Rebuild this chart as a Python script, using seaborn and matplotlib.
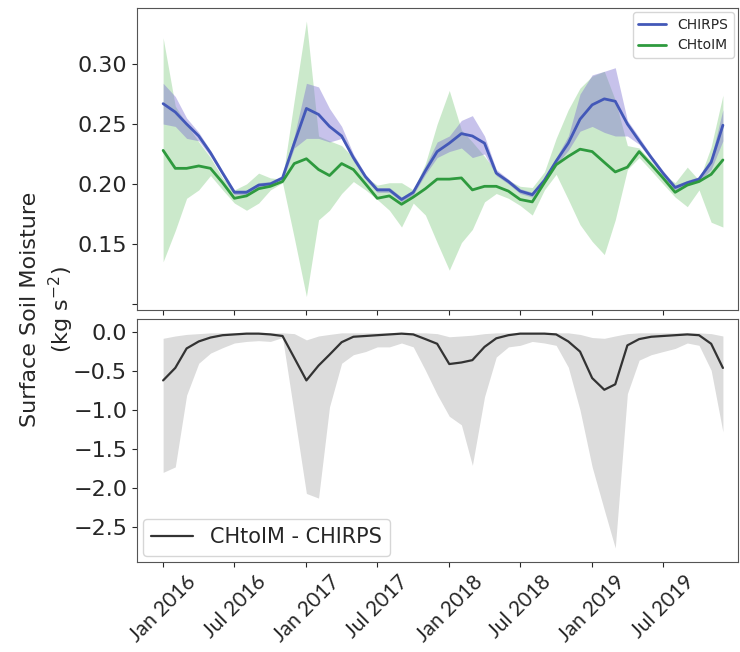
import pandas as pd
import matplotlib.pyplot as plt
import matplotlib.dates as mdates
import seaborn as sns

# monthly values Jan 2016 - Dec 2019
months = pd.date_range("2016-01-01", periods=48, freq="MS")
tick_dates = pd.date_range("2016-01-01", "2019-07-01", freq="6MS")

chirps = [0.267, 0.260, 0.250, 0.240, 0.226, 0.209, 0.193, 0.193, 0.199, 0.200, 0.205, 0.234,
          0.263, 0.258, 0.248, 0.240, 0.222, 0.206, 0.195, 0.195, 0.187, 0.193, 0.211, 0.227,
          0.234, 0.242, 0.240, 0.234, 0.209, 0.202, 0.194, 0.191, 0.203, 0.219, 0.234, 0.254,
          0.266, 0.271, 0.269, 0.250, 0.236, 0.222, 0.209, 0.197, 0.201, 0.204, 0.218, 0.249]
chirps_lo = [0.250, 0.248, 0.238, 0.236, 0.223, 0.207, 0.191, 0.191, 0.197, 0.198, 0.203, 0.230,
             0.238, 0.238, 0.235, 0.238, 0.219, 0.204, 0.193, 0.193, 0.185, 0.191, 0.208, 0.222,
             0.227, 0.230, 0.222, 0.225, 0.207, 0.200, 0.192, 0.189, 0.201, 0.216, 0.228, 0.244,
             0.248, 0.243, 0.240, 0.240, 0.233, 0.220, 0.207, 0.195, 0.199, 0.202, 0.212, 0.236]
chirps_hi = [0.284, 0.273, 0.255, 0.243, 0.228, 0.211, 0.195, 0.195, 0.201, 0.202, 0.207, 0.240,
             0.284, 0.281, 0.263, 0.248, 0.225, 0.208, 0.197, 0.197, 0.189, 0.195, 0.215, 0.235,
             0.240, 0.253, 0.257, 0.240, 0.212, 0.204, 0.196, 0.193, 0.205, 0.222, 0.240, 0.275,
             0.291, 0.294, 0.297, 0.253, 0.239, 0.224, 0.211, 0.199, 0.203, 0.206, 0.222, 0.262]

chtoim = [0.228, 0.213, 0.213, 0.215, 0.213, 0.201, 0.188, 0.190, 0.196, 0.198, 0.202, 0.217,
          0.221, 0.212, 0.207, 0.217, 0.212, 0.200, 0.188, 0.190, 0.183, 0.189, 0.196, 0.204,
          0.204, 0.205, 0.195, 0.198, 0.198, 0.194, 0.187, 0.185, 0.201, 0.216, 0.223, 0.229,
          0.227, 0.218, 0.210, 0.214, 0.227, 0.216, 0.205, 0.193, 0.199, 0.202, 0.208, 0.220]
chtoim_lo = [0.135, 0.161, 0.188, 0.195, 0.207, 0.195, 0.184, 0.178, 0.184, 0.195, 0.201, 0.155,
             0.106, 0.170, 0.178, 0.192, 0.202, 0.195, 0.187, 0.178, 0.164, 0.184, 0.174, 0.151,
             0.128, 0.151, 0.162, 0.185, 0.192, 0.188, 0.182, 0.174, 0.195, 0.208, 0.187, 0.166,
             0.152, 0.141, 0.170, 0.212, 0.222, 0.211, 0.200, 0.189, 0.181, 0.195, 0.168, 0.164]
chtoim_hi = [0.322, 0.265, 0.250, 0.235, 0.222, 0.205, 0.195, 0.200, 0.209, 0.205, 0.204, 0.270,
             0.336, 0.240, 0.236, 0.232, 0.222, 0.206, 0.199, 0.201, 0.201, 0.195, 0.217, 0.250,
             0.278, 0.245, 0.235, 0.223, 0.210, 0.203, 0.198, 0.197, 0.210, 0.238, 0.262, 0.280,
             0.290, 0.294, 0.270, 0.232, 0.230, 0.219, 0.208, 0.201, 0.214, 0.203, 0.231, 0.274]

diff = [-0.62, -0.46, -0.21, -0.12, -0.07, -0.04, -0.03, -0.02, -0.02, -0.03, -0.05, -0.33,
        -0.62, -0.43, -0.29, -0.13, -0.06, -0.05, -0.04, -0.03, -0.02, -0.03, -0.09, -0.15,
        -0.41, -0.39, -0.36, -0.19, -0.08, -0.04, -0.02, -0.02, -0.02, -0.03, -0.12, -0.25,
        -0.59, -0.74, -0.67, -0.17, -0.09, -0.06, -0.05, -0.04, -0.03, -0.04, -0.15, -0.46]
diff_lo = [-1.80, -1.73, -0.81, -0.40, -0.27, -0.20, -0.14, -0.12, -0.11, -0.12, -0.07, -1.05,
           -2.07, -2.13, -0.96, -0.40, -0.29, -0.25, -0.19, -0.19, -0.14, -0.19, -0.49, -0.80,
           -1.08, -1.19, -1.71, -0.83, -0.32, -0.19, -0.17, -0.12, -0.14, -0.17, -0.45, -1.00,
           -1.73, -2.28, -2.77, -0.79, -0.36, -0.29, -0.25, -0.21, -0.14, -0.17, -0.49, -1.28]
diff_hi = [-0.08, -0.05, -0.03, -0.02, -0.01, -0.01, -0.01, -0.01, -0.01, -0.01, -0.01, -0.02,
           -0.10, -0.05, -0.03, -0.01, -0.01, -0.01, -0.01, -0.01, -0.01, -0.01, -0.01, -0.02,
           -0.06, -0.05, -0.04, -0.02, -0.01, -0.01, -0.01, -0.01, -0.01, -0.01, -0.01, -0.03,
           -0.07, -0.08, -0.05, -0.02, -0.01, -0.01, -0.01, -0.01, -0.01, -0.01, -0.02, -0.05]

sns.set_style("ticks")
plt.rcParams["axes.edgecolor"] = "#555555"
plt.rcParams["font.family"] = ["DejaVu Sans"]

fig = plt.figure(figsize=(7.4, 6.52), dpi=100)
ax1 = fig.add_axes([0.185, 0.525, 0.812, 0.463])
ax2 = fig.add_axes([0.185, 0.138, 0.812, 0.373], sharex=ax1)

# top panel: model means with spread
ax1.fill_between(months, chtoim_lo, chtoim_hi, color="#a9dba9", alpha=0.6, lw=0)
ax1.fill_between(months, chirps_lo, chirps_hi, color="#7b6fd0", alpha=0.42, lw=0)
sns.lineplot(x=months, y=chirps, ax=ax1, color="#4358b8", lw=2, label="CHIRPS")
sns.lineplot(x=months, y=chtoim, ax=ax1, color="#2e9a3e", lw=2, label="CHtoIM")
ax1.set_ylim(0.095, 0.347)
ax1.set_yticks([0.10, 0.15, 0.20, 0.25, 0.30])
ax1.set_yticklabels(["", "0.15", "0.20", "0.25", "0.30"])
ax1.tick_params(axis="y", labelsize=16)
ax1.tick_params(axis="x", labelbottom=False)
ax1.legend(loc="upper right", fontsize=10, frameon=True, borderaxespad=0.3)

# bottom panel: difference
ax2.fill_between(months, diff_lo, diff_hi, color="#dcdcdc", lw=0)
sns.lineplot(x=months, y=diff, ax=ax2, color="#333333", lw=1.6, label="CHtoIM - CHIRPS")
ax2.set_ylim(-2.95, 0.17)
ax2.set_yticks([0.0, -0.5, -1.0, -1.5, -2.0, -2.5])
ax2.tick_params(axis="y", labelsize=16)
ax2.legend(loc="lower left", fontsize=15, frameon=True, borderaxespad=0.3)

ax2.set_xlim(pd.Timestamp("2015-10-26"), pd.Timestamp("2020-01-08"))
ax2.set_xticks(tick_dates)
ax2.xaxis.set_major_formatter(mdates.DateFormatter("%b %Y"))
for lab in ax2.get_xticklabels():
    lab.set_rotation(45)
    lab.set_fontsize(15)
    lab.set_family(["Lato", "DejaVu Sans"])

for ax in (ax1, ax2):
    ax.set_xlabel("")
    ax.set_ylabel("")
    for s in ax.spines.values():
        s.set_visible(True)

fig.text(0.065, 0.525, "Surface Soil Moisture\n(kg s$^{-2}$)", rotation=90,
         ha="center", va="center", fontsize=16, linespacing=1.3)

plt.savefig("out.png", dpi=100)
